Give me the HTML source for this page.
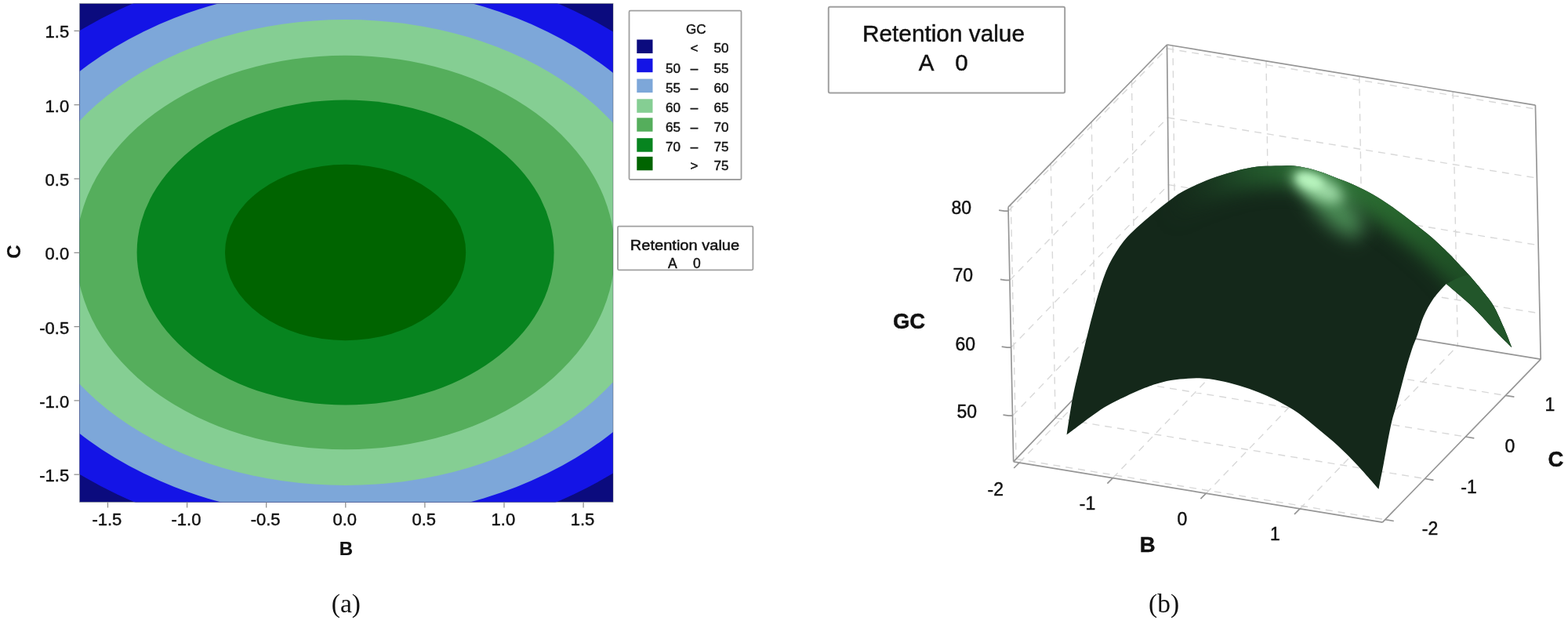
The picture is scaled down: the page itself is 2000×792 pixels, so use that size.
<!DOCTYPE html>
<html lang="en"><head><meta charset="utf-8"><title>Contour and surface plots of GC vs B, C</title>
<style>
html,body{margin:0;padding:0;background:#fff;}
body{width:2000px;height:792px;overflow:hidden;}
svg{display:block;}
text{font-family:"Liberation Sans",sans-serif;fill:#111;stroke:#111;stroke-width:0.45px;}
.tk{font-size:22px;}
.lg{font-size:17px;}
.cap{font-family:"Liberation Serif",serif;font-size:33.5px;fill:#111;stroke:none;}
.b{font-weight:bold;stroke-width:0.2px;}
</style></head><body>
<svg width="2000" height="792" viewBox="0 0 2000 792">
<rect width="2000" height="792" fill="#fff"/>
<defs><clipPath id="pc"><rect x="101.5" y="4.5" width="680.5" height="635.9"/></clipPath></defs>
<g clip-path="url(#pc)">
<rect x="101.5" y="4.5" width="680.5" height="635.9" fill="#0b0b7e"/>
<ellipse cx="440.6" cy="322" rx="524.0" ry="371.0" fill="#1414e6"/>
<ellipse cx="440.6" cy="322" rx="463.0" ry="339.0" fill="#7da7d9"/>
<ellipse cx="440.6" cy="322" rx="411.0" ry="297.0" fill="#85ce93"/>
<ellipse cx="440.6" cy="322" rx="343.5" ry="251.3" fill="#55ae5c"/>
<ellipse cx="440.6" cy="322" rx="266.0" ry="194.4" fill="#07841f"/>
<ellipse cx="440.6" cy="322" rx="153.6" ry="112.2" fill="#006400"/>
</g>
<rect x="101.5" y="4.5" width="680.5" height="635.9" fill="none" stroke="#3a4450" stroke-opacity="0.45" stroke-width="1"/>
<g stroke="#8a8a8a" stroke-width="1.2">
<line x1="94.5" y1="39.4" x2="101.5" y2="39.4"/>
<line x1="94.5" y1="133.7" x2="101.5" y2="133.7"/>
<line x1="94.5" y1="228" x2="101.5" y2="228"/>
<line x1="94.5" y1="322.3" x2="101.5" y2="322.3"/>
<line x1="94.5" y1="416.6" x2="101.5" y2="416.6"/>
<line x1="94.5" y1="510.9" x2="101.5" y2="510.9"/>
<line x1="94.5" y1="605.2" x2="101.5" y2="605.2"/>
<line x1="137.5" y1="640.4" x2="137.5" y2="647.5"/>
<line x1="238.6" y1="640.4" x2="238.6" y2="647.5"/>
<line x1="339.7" y1="640.4" x2="339.7" y2="647.5"/>
<line x1="440.8" y1="640.4" x2="440.8" y2="647.5"/>
<line x1="541.9" y1="640.4" x2="541.9" y2="647.5"/>
<line x1="643" y1="640.4" x2="643" y2="647.5"/>
<line x1="744.1" y1="640.4" x2="744.1" y2="647.5"/>
</g>
<text class="tk" x="88.2" y="48.4" text-anchor="end">1.5</text>
<text class="tk" x="88.2" y="142.7" text-anchor="end">1.0</text>
<text class="tk" x="88.2" y="237" text-anchor="end">0.5</text>
<text class="tk" x="88.2" y="331.3" text-anchor="end">0.0</text>
<text class="tk" x="88.2" y="425.6" text-anchor="end">-0.5</text>
<text class="tk" x="88.2" y="519.9" text-anchor="end">-1.0</text>
<text class="tk" x="88.2" y="614.2" text-anchor="end">-1.5</text>
<text class="tk" x="136.4" y="670.2" text-anchor="middle">-1.5</text>
<text class="tk" x="237.5" y="670.2" text-anchor="middle">-1.0</text>
<text class="tk" x="338.6" y="670.2" text-anchor="middle">-0.5</text>
<text class="tk" x="439.7" y="670.2" text-anchor="middle">0.0</text>
<text class="tk" x="540.8" y="670.2" text-anchor="middle">0.5</text>
<text class="tk" x="641.9" y="670.2" text-anchor="middle">1.0</text>
<text class="tk" x="743" y="670.2" text-anchor="middle">1.5</text>
<text class="b" font-size="24" x="441.3" y="708.3" text-anchor="middle">B</text>
<text class="b" font-size="24" transform="translate(25.5,321) rotate(-90)" text-anchor="middle">C</text>
<rect x="802.5" y="13.7" width="143" height="215.3" fill="#fff" stroke="#a0a0a0" stroke-width="1.8" rx="1.5"/>
<text class="lg" x="887.7" y="43.4" text-anchor="middle">GC</text>
<rect x="812.3" y="50.5" width="20.2" height="17.5" fill="#0b0b7e"/>
<text class="lg" x="885.5" y="67" text-anchor="middle">&lt;</text>
<text class="lg" x="929.5" y="67" text-anchor="end">50</text>
<rect x="812.3" y="74.7" width="20.2" height="17.5" fill="#1414e6"/>
<text class="lg" x="868" y="93" text-anchor="end">50</text>
<text class="lg" x="885.5" y="93" text-anchor="middle">–</text>
<text class="lg" x="929.5" y="93" text-anchor="end">55</text>
<rect x="812.3" y="100.6" width="20.2" height="17.5" fill="#7da7d9"/>
<text class="lg" x="868" y="118.2" text-anchor="end">55</text>
<text class="lg" x="885.5" y="118.2" text-anchor="middle">–</text>
<text class="lg" x="929.5" y="118.2" text-anchor="end">60</text>
<rect x="812.3" y="126.3" width="20.2" height="17.5" fill="#85ce93"/>
<text class="lg" x="868" y="142.6" text-anchor="end">60</text>
<text class="lg" x="885.5" y="142.6" text-anchor="middle">–</text>
<text class="lg" x="929.5" y="142.6" text-anchor="end">65</text>
<rect x="812.3" y="150.3" width="20.2" height="17.5" fill="#55ae5c"/>
<text class="lg" x="868" y="167.5" text-anchor="end">65</text>
<text class="lg" x="885.5" y="167.5" text-anchor="middle">–</text>
<text class="lg" x="929.5" y="167.5" text-anchor="end">70</text>
<rect x="812.3" y="176.2" width="20.2" height="17.5" fill="#07841f"/>
<text class="lg" x="868" y="192.7" text-anchor="end">70</text>
<text class="lg" x="885.5" y="192.7" text-anchor="middle">–</text>
<text class="lg" x="929.5" y="192.7" text-anchor="end">75</text>
<rect x="812.3" y="199.8" width="20.2" height="17.5" fill="#006400"/>
<text class="lg" x="885.5" y="217" text-anchor="middle">&gt;</text>
<text class="lg" x="929.5" y="217" text-anchor="end">75</text>
<rect x="788" y="288.6" width="172.4" height="55.7" fill="#fff" stroke="#a0a0a0" stroke-width="1.8" rx="1.5"/>
<text font-size="17.5" x="873.5" y="318.5" text-anchor="middle" textLength="139.4" lengthAdjust="spacingAndGlyphs">Retention value</text>
<text font-size="17.5" x="857.8" y="342.3" text-anchor="middle">A</text>
<text font-size="17.5" x="888.8" y="342.3" text-anchor="middle">0</text>
<text class="cap" x="441.4" y="780.6" text-anchor="middle">(a)</text>
<rect x="1056.8" y="8.8" width="301.4" height="109.7" fill="#fff" stroke="#a0a0a0" stroke-width="2" rx="2"/>
<text font-size="29.5" x="1203.5" y="53" text-anchor="middle" textLength="207" lengthAdjust="spacingAndGlyphs">Retention value</text>
<text font-size="29.5" x="1181.5" y="89.8" text-anchor="middle">A</text>
<text font-size="29.5" x="1226.5" y="89.8" text-anchor="middle">0</text>
<text class="cap" x="1484.6" y="780.6" text-anchor="middle">(b)</text>
<path d="M1289.4 260.7L1296.1 585.3M1296.1 585.3L1766.8 662.7M1340.3 208.7L1346.1 533.1M1346.1 533.1L1817.5 610.5M1392.3 155.4L1397.3 479.7M1397.3 479.7L1869.3 557.0M1443.5 103.0L1447.8 427.1M1447.8 427.1L1920.4 504.4M1496.0 58.2L1499.6 382.2M1300.2 590.0L1499.6 382.2M1615.0 77.8L1619.4 401.8M1419.4 609.6L1619.4 401.8M1733.8 97.2L1739.0 421.3M1538.4 629.2L1739.0 421.3M1853.2 116.8L1859.3 440.9M1658.0 648.9L1859.3 440.9M1291.5 530.2L1491.4 322.5M1491.4 322.5L1964.0 399.7M1289.7 443.1L1490.4 235.6M1490.4 235.6L1962.1 312.7M1287.9 357.4L1489.5 150.0M1489.5 150.0L1960.4 227.1M1286.1 269.1L1488.6 61.9M1488.6 61.9L1958.5 139.0" fill="none" stroke="#d8d8d8" stroke-width="1.4" stroke-dasharray="9 7"/>
<path d="M1286.0 264.2L1488.5 57.0M1488.5 57.0L1958.4 134.1M1286.0 264.2L1292.7 588.8M1488.5 57.0L1492.0 381.0M1958.4 134.1L1965.2 458.2M1292.7 588.8L1763.4 666.2M1763.4 666.2L1965.2 458.2M1292.7 588.8L1492.0 381.0M1492.0 381.0L1965.2 458.2M1291.5 530.2l-5 0l-7 -1M1289.7 443.1l-5 0l-7 -1M1287.9 357.4l-5 0l-7 -1M1286.1 269.1l-5 0l-7 -1M1300.2 590.0l-7 7M1419.4 609.6l-7 7M1538.4 629.2l-7 7M1658.0 648.9l-7 7M1766.8 662.7l11 1.8M1817.5 610.5l11 1.8M1869.3 557.0l11 1.8M1920.4 504.4l11 1.8" fill="none" stroke="#969696" stroke-width="1.7"/>
<defs>
<clipPath id="sc"><path d="M1360.6 554.5C1361.2 550.4 1363.0 538.1 1364.3 530.0C1365.6 521.9 1366.9 513.8 1368.4 506.0C1369.9 498.2 1371.8 490.3 1373.5 483.0C1375.2 475.7 1376.9 469.0 1378.6 462.0C1380.3 455.0 1381.8 448.3 1383.6 441.0C1385.4 433.7 1387.5 425.2 1389.3 418.0C1391.1 410.8 1392.7 404.8 1394.5 398.0C1396.3 391.2 1398.1 384.2 1400.3 377.0C1402.5 369.8 1405.0 361.7 1407.4 355.0C1409.8 348.3 1412.1 342.6 1414.8 337.0C1417.5 331.4 1420.6 326.3 1423.6 321.5C1426.6 316.7 1429.7 312.2 1433.0 308.0C1436.3 303.8 1439.7 300.3 1443.5 296.5C1447.3 292.7 1451.6 288.9 1456.0 285.0C1460.4 281.1 1465.6 276.8 1469.8 273.3C1474.0 269.8 1477.2 267.1 1481.0 264.0C1484.8 260.9 1488.6 258.1 1492.8 255.0C1497.0 251.9 1500.4 248.9 1506.0 245.7C1511.6 242.5 1518.7 239.0 1526.3 235.6C1533.9 232.2 1543.1 228.4 1551.5 225.5C1559.9 222.6 1568.4 220.0 1576.8 217.9C1585.2 215.8 1593.6 213.9 1602.0 212.8C1610.4 211.8 1619.2 211.8 1627.3 211.6C1635.4 211.4 1642.4 210.8 1650.5 211.6C1658.6 212.4 1667.4 214.3 1675.8 216.6C1684.2 218.9 1692.6 222.3 1701.0 225.5C1709.4 228.7 1717.9 231.8 1726.3 235.6C1734.7 239.4 1743.1 243.4 1751.5 248.2C1759.9 253.0 1768.4 258.7 1776.8 264.6C1785.2 270.5 1793.6 277.0 1802.0 283.5C1810.4 290.0 1819.3 296.8 1827.3 303.7C1835.3 310.6 1845.5 320.8 1850.0 325.2C1854.5 329.6 1850.5 325.6 1854.5 330.0C1858.5 334.4 1867.9 344.2 1874.2 351.3C1880.5 358.4 1887.0 366.1 1892.2 372.7C1897.4 379.3 1901.0 383.0 1905.4 390.7C1909.8 398.4 1914.7 409.8 1918.5 418.6C1922.3 427.4 1926.7 439.2 1928.3 443.3C1925.0 440.0 1915.2 430.5 1908.6 423.6C1902.0 416.8 1894.6 408.2 1888.9 402.2C1883.2 396.2 1878.9 391.9 1874.2 387.5C1869.5 383.1 1865.9 380.2 1861.0 376.0C1856.1 371.8 1847.3 364.3 1844.6 362.0C1841.9 365.1 1833.2 373.9 1828.4 380.8C1823.6 387.7 1819.2 395.9 1815.8 403.5C1812.4 411.1 1810.7 419.1 1808.2 426.3C1805.7 433.5 1803.1 438.9 1800.6 446.5C1798.1 454.1 1795.5 462.8 1793.0 471.7C1790.5 480.6 1787.7 491.8 1785.5 500.0C1783.3 508.2 1781.8 514.3 1780.0 520.7C1778.2 527.1 1776.7 531.2 1775.0 538.4C1773.3 545.5 1771.6 554.8 1769.9 563.6C1768.2 572.4 1766.7 581.4 1764.8 591.4C1762.9 601.4 1759.5 618.3 1758.5 623.7C1754.1 618.8 1740.6 603.2 1732.0 594.0C1723.4 584.8 1715.2 576.5 1706.8 568.7C1698.4 560.9 1689.9 554.2 1681.5 547.2C1673.1 540.2 1664.7 532.9 1656.3 527.0C1647.9 521.1 1639.4 516.3 1631.0 511.9C1622.6 507.5 1614.2 503.9 1605.8 500.5C1597.4 497.1 1588.9 494.2 1580.5 491.7C1572.1 489.2 1563.7 487.0 1555.3 485.4C1546.9 483.8 1538.4 482.5 1530.0 482.2C1521.6 481.9 1512.9 482.7 1505.0 483.6C1497.1 484.5 1490.0 485.5 1482.5 487.4C1475.0 489.3 1468.8 491.3 1460.0 494.8C1451.2 498.3 1438.6 504.2 1430.0 508.3C1421.4 512.4 1415.1 515.6 1408.6 519.5C1402.1 523.4 1396.4 527.9 1390.9 531.8C1385.4 535.7 1380.8 539.2 1375.8 543.0C1370.8 546.8 1363.1 552.6 1360.6 554.5Z"/></clipPath>
<filter id="bl12" color-interpolation-filters="sRGB" x="-150%" y="-150%" width="400%" height="400%"><feGaussianBlur color-interpolation-filters="sRGB" stdDeviation="12"/></filter>
<filter id="bl8" color-interpolation-filters="sRGB" x="-150%" y="-150%" width="400%" height="400%"><feGaussianBlur color-interpolation-filters="sRGB" stdDeviation="8"/></filter>
<filter id="bl5" color-interpolation-filters="sRGB" x="-150%" y="-150%" width="400%" height="400%"><feGaussianBlur color-interpolation-filters="sRGB" stdDeviation="5"/></filter>
<linearGradient id="rg" gradientUnits="userSpaceOnUse" x1="1490" y1="0" x2="1890" y2="0"><stop offset="0" stop-color="#1a3a21" stop-opacity="0"/><stop offset="0.25" stop-color="#21522a"/><stop offset="0.5" stop-color="#2d7236"/><stop offset="0.72" stop-color="#29682f"/><stop offset="0.95" stop-color="#1e4e25"/></linearGradient>
</defs>
<path d="M1360.6 554.5C1361.2 550.4 1363.0 538.1 1364.3 530.0C1365.6 521.9 1366.9 513.8 1368.4 506.0C1369.9 498.2 1371.8 490.3 1373.5 483.0C1375.2 475.7 1376.9 469.0 1378.6 462.0C1380.3 455.0 1381.8 448.3 1383.6 441.0C1385.4 433.7 1387.5 425.2 1389.3 418.0C1391.1 410.8 1392.7 404.8 1394.5 398.0C1396.3 391.2 1398.1 384.2 1400.3 377.0C1402.5 369.8 1405.0 361.7 1407.4 355.0C1409.8 348.3 1412.1 342.6 1414.8 337.0C1417.5 331.4 1420.6 326.3 1423.6 321.5C1426.6 316.7 1429.7 312.2 1433.0 308.0C1436.3 303.8 1439.7 300.3 1443.5 296.5C1447.3 292.7 1451.6 288.9 1456.0 285.0C1460.4 281.1 1465.6 276.8 1469.8 273.3C1474.0 269.8 1477.2 267.1 1481.0 264.0C1484.8 260.9 1488.6 258.1 1492.8 255.0C1497.0 251.9 1500.4 248.9 1506.0 245.7C1511.6 242.5 1518.7 239.0 1526.3 235.6C1533.9 232.2 1543.1 228.4 1551.5 225.5C1559.9 222.6 1568.4 220.0 1576.8 217.9C1585.2 215.8 1593.6 213.9 1602.0 212.8C1610.4 211.8 1619.2 211.8 1627.3 211.6C1635.4 211.4 1642.4 210.8 1650.5 211.6C1658.6 212.4 1667.4 214.3 1675.8 216.6C1684.2 218.9 1692.6 222.3 1701.0 225.5C1709.4 228.7 1717.9 231.8 1726.3 235.6C1734.7 239.4 1743.1 243.4 1751.5 248.2C1759.9 253.0 1768.4 258.7 1776.8 264.6C1785.2 270.5 1793.6 277.0 1802.0 283.5C1810.4 290.0 1819.3 296.8 1827.3 303.7C1835.3 310.6 1845.5 320.8 1850.0 325.2C1854.5 329.6 1850.5 325.6 1854.5 330.0C1858.5 334.4 1867.9 344.2 1874.2 351.3C1880.5 358.4 1887.0 366.1 1892.2 372.7C1897.4 379.3 1901.0 383.0 1905.4 390.7C1909.8 398.4 1914.7 409.8 1918.5 418.6C1922.3 427.4 1926.7 439.2 1928.3 443.3C1925.0 440.0 1915.2 430.5 1908.6 423.6C1902.0 416.8 1894.6 408.2 1888.9 402.2C1883.2 396.2 1878.9 391.9 1874.2 387.5C1869.5 383.1 1865.9 380.2 1861.0 376.0C1856.1 371.8 1847.3 364.3 1844.6 362.0C1841.9 365.1 1833.2 373.9 1828.4 380.8C1823.6 387.7 1819.2 395.9 1815.8 403.5C1812.4 411.1 1810.7 419.1 1808.2 426.3C1805.7 433.5 1803.1 438.9 1800.6 446.5C1798.1 454.1 1795.5 462.8 1793.0 471.7C1790.5 480.6 1787.7 491.8 1785.5 500.0C1783.3 508.2 1781.8 514.3 1780.0 520.7C1778.2 527.1 1776.7 531.2 1775.0 538.4C1773.3 545.5 1771.6 554.8 1769.9 563.6C1768.2 572.4 1766.7 581.4 1764.8 591.4C1762.9 601.4 1759.5 618.3 1758.5 623.7C1754.1 618.8 1740.6 603.2 1732.0 594.0C1723.4 584.8 1715.2 576.5 1706.8 568.7C1698.4 560.9 1689.9 554.2 1681.5 547.2C1673.1 540.2 1664.7 532.9 1656.3 527.0C1647.9 521.1 1639.4 516.3 1631.0 511.9C1622.6 507.5 1614.2 503.9 1605.8 500.5C1597.4 497.1 1588.9 494.2 1580.5 491.7C1572.1 489.2 1563.7 487.0 1555.3 485.4C1546.9 483.8 1538.4 482.5 1530.0 482.2C1521.6 481.9 1512.9 482.7 1505.0 483.6C1497.1 484.5 1490.0 485.5 1482.5 487.4C1475.0 489.3 1468.8 491.3 1460.0 494.8C1451.2 498.3 1438.6 504.2 1430.0 508.3C1421.4 512.4 1415.1 515.6 1408.6 519.5C1402.1 523.4 1396.4 527.9 1390.9 531.8C1385.4 535.7 1380.8 539.2 1375.8 543.0C1370.8 546.8 1363.1 552.6 1360.6 554.5Z" fill="#14281a"/>
<g clip-path="url(#sc)">
<path d="M1481.0 264.0C1483.0 262.5 1488.6 258.1 1492.8 255.0C1497.0 251.9 1500.4 248.9 1506.0 245.7C1511.6 242.5 1518.7 239.0 1526.3 235.6C1533.9 232.2 1543.1 228.4 1551.5 225.5C1559.9 222.6 1568.4 220.0 1576.8 217.9C1585.2 215.8 1593.6 213.9 1602.0 212.8C1610.4 211.8 1619.2 211.8 1627.3 211.6C1635.4 211.4 1642.4 210.8 1650.5 211.6C1658.6 212.4 1667.4 214.3 1675.8 216.6C1684.2 218.9 1692.6 222.3 1701.0 225.5C1709.4 228.7 1717.9 231.8 1726.3 235.6C1734.7 239.4 1743.1 243.4 1751.5 248.2C1759.9 253.0 1768.4 258.7 1776.8 264.6C1785.2 270.5 1793.6 277.0 1802.0 283.5C1810.4 290.0 1819.3 296.8 1827.3 303.7C1835.3 310.6 1845.5 320.8 1850.0 325.2C1854.5 329.6 1850.5 325.6 1854.5 330.0C1858.5 334.4 1867.9 344.2 1874.2 351.3C1880.5 358.4 1887.0 366.1 1892.2 372.7C1897.4 379.3 1901.0 383.0 1905.4 390.7C1909.8 398.4 1914.7 409.8 1918.5 418.6C1922.3 427.4 1926.7 439.2 1928.3 443.3" fill="none" stroke="url(#rg)" stroke-width="52" filter="url(#bl12)" stroke-linejoin="round"/>
<path d="M1844.6 362.0C1849.5 360.2 1866.3 349.5 1874.2 351.3C1882.1 353.1 1887.0 366.1 1892.2 372.7C1897.4 379.3 1901.0 383.0 1905.4 390.7C1909.8 398.4 1914.7 409.8 1918.5 418.6C1922.3 427.4 1926.7 439.2 1928.3 443.3C1925.0 440.0 1915.2 430.5 1908.6 423.6C1902.0 416.8 1894.6 408.2 1888.9 402.2C1883.2 396.2 1878.9 391.9 1874.2 387.5C1869.5 383.1 1865.9 380.2 1861.0 376.0C1856.1 371.8 1847.3 364.3 1844.6 362.0Z" fill="#22562a"/>
<g transform="translate(1700,262) rotate(47)" filter="url(#bl12)"><ellipse cx="0" cy="0" rx="52" ry="20" fill="#4a8c55"/></g>
<g transform="translate(1680,238) rotate(27)" filter="url(#bl8)"><ellipse cx="0" cy="0" rx="36" ry="14" fill="#9fdca7"/></g>
<g transform="translate(1671,231) rotate(20)" filter="url(#bl5)"><ellipse cx="0" cy="0" rx="17" ry="8" fill="#b8f5be"/></g>
</g>
<text x="1239.0" y="272.7" font-size="23" text-anchor="end">80</text>
<text x="1241.0" y="359.0" font-size="23" text-anchor="end">70</text>
<text x="1244.0" y="446.5" font-size="23" text-anchor="end">60</text>
<text x="1246.0" y="533.4" font-size="23" text-anchor="end">50</text>
<text x="1159.6" y="418.6" font-size="27.5" text-anchor="middle" font-weight="bold" stroke-width="0.2">GC</text>
<text x="1269.7" y="631.6" font-size="23" text-anchor="middle">-2</text>
<text x="1387.0" y="649.8" font-size="23" text-anchor="middle">-1</text>
<text x="1508.0" y="670.2" font-size="23" text-anchor="middle">0</text>
<text x="1626.5" y="689.0" font-size="23" text-anchor="middle">1</text>
<text x="1463.8" y="704.1" font-size="27.5" text-anchor="middle" font-weight="bold" stroke-width="0.2">B</text>
<text x="1824.0" y="682.0" font-size="23" text-anchor="middle">-2</text>
<text x="1873.5" y="629.0" font-size="23" text-anchor="middle">-1</text>
<text x="1926.0" y="576.7" font-size="23" text-anchor="middle">0</text>
<text x="1977.0" y="524.0" font-size="23" text-anchor="middle">1</text>
<text x="1984.5" y="595.3" font-size="27.5" text-anchor="middle" font-weight="bold" stroke-width="0.2">C</text>
</svg></body></html>
